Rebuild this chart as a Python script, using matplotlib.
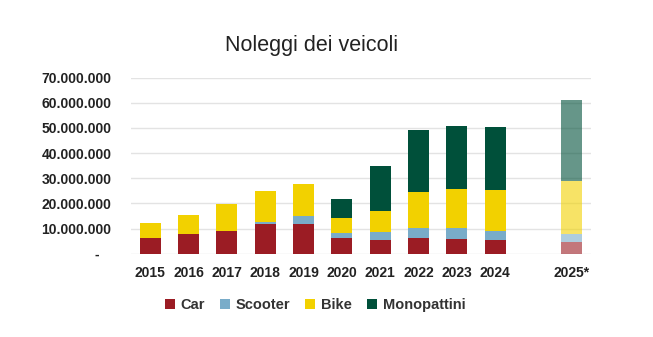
import matplotlib.pyplot as plt
import numpy as np

years = ['2015', '2016', '2017', '2018', '2019', '2020', '2021', '2022', '2023', '2024', '2025*']
car = [6.1, 7.8, 9.1, 11.8, 11.9, 6.2, 5.4, 6.1, 5.7, 5.6, 4.6]
scooter = [0.0, 0.0, 0.1, 0.8, 2.9, 2.0, 3.1, 4.2, 4.5, 3.4, 3.3]
bike = [6.1, 7.7, 10.7, 12.4, 12.9, 6.0, 8.3, 14.1, 15.6, 16.3, 21.2]
monopattini = [0.0, 0.0, 0.0, 0.0, 0.0, 7.4, 17.9, 24.9, 24.8, 24.9, 32.1]

series = [('Car', car, '#9b1c24'), ('Scooter', scooter, '#79acc9'),
          ('Bike', bike, '#f2d100'), ('Monopattini', monopattini, '#00503a')]

plt.rcParams['font.family'] = ['Liberation Sans', 'DejaVu Sans']

fig = plt.figure(figsize=(6.53, 3.37), dpi=100)
ax = fig.add_axes([131 / 653, 1 - 253.7 / 337, 460 / 653, (253.7 - 77.7) / 337])

pos = np.array([0, 1, 2, 3, 4, 5, 6, 7, 8, 9, 11])
bottom = np.zeros(len(years))
for name, vals, col in series:
    v = np.array(vals) * 1e6
    alphas = [1.0] * (len(years) - 1) + [0.6]
    for i in range(len(years)):
        ax.bar(pos[i], v[i], 0.54, bottom=bottom[i], color=col, alpha=alphas[i],
               label=name if i == 0 else None, zorder=3)
    bottom += v

ax.set_xlim(-0.5, 11.5)
ax.set_ylim(0, 70e6)
ticks = np.arange(0, 70e6 + 1, 10e6)
ax.set_yticks(ticks)
ax.set_yticklabels(['-   '] + [f'{int(t):,}'.replace(',', '.') for t in ticks[1:]])
ax.set_xticks(pos)
ax.set_xticklabels(years)
ax.tick_params(length=0, labelsize=10, labelcolor='#222222')
ax.tick_params(axis='y', pad=14)
ax.tick_params(axis='x', pad=9)
for lab in ax.get_xticklabels() + ax.get_yticklabels():
    lab.set_fontweight('bold')
ax.grid(axis='y', color='#e3e3e3', linewidth=1, zorder=0)
for s in ax.spines.values():
    s.set_visible(False)

fig.text(312 / 653, 1 - 45 / 337, 'Noleggi dei veicoli', ha='center', va='center',
         fontsize=15.5, color='#222222')

handles, labels = ax.get_legend_handles_labels()
leg = fig.legend(handles, labels, loc='center', bbox_to_anchor=(315 / 653, 1 - 305 / 337),
                 ncol=4, frameon=False, handlelength=0.7, handleheight=0.7,
                 handletextpad=0.4, columnspacing=1.0, prop={'size': 10.5, 'weight': 'bold'})
for t in leg.get_texts():
    t.set_color('#333333')

fig.savefig('out.png', dpi=100)
